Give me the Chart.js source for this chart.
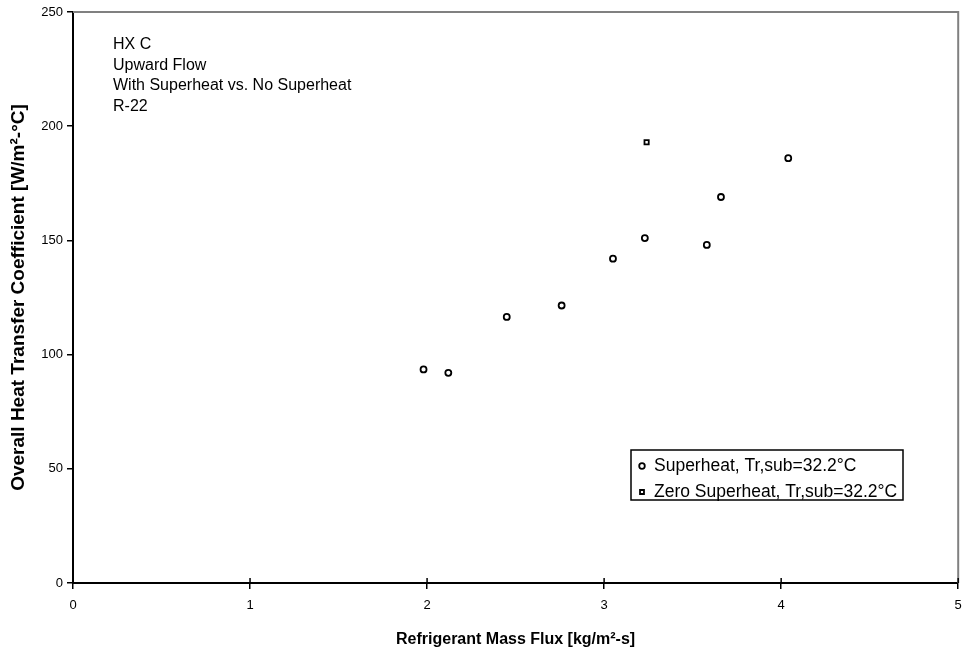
<!DOCTYPE html>
<html>
<head>
<meta charset="utf-8">
<script src="https://cdn.jsdelivr.net/npm/chart.js@4.4.1/dist/chart.umd.min.js"></script>
<style>
  html, body { margin: 0; padding: 0; background: #fff; }
  #wrap { width: 964px; height: 653px; }
</style>
</head>
<body>
<div id="wrap"><canvas id="myChart" width="964" height="653"></canvas></div>
<script>
// values
const superheatX = [1.98, 2.12, 2.45, 2.76, 3.05, 3.23, 3.58, 3.66, 4.04];
const superheatY = [93.5, 92, 116.5, 121.5, 142, 151, 148, 169, 186];
const zeroSuperheatX = [3.24];
const zeroSuperheatY = [193];
const xTicks = [0, 1, 2, 3, 4, 5];
const yTicks = [0, 50, 100, 150, 200, 250];
const noteLines = ['HX C', 'Upward Flow', 'With Superheat vs. No Superheat', 'R-22'];

const FONT = 'Arial, "Liberation Sans", sans-serif';

function pairs(xs, ys) {
  return xs.map((x, i) => ({ x: x, y: ys[i] }));
}

// gray frame on top and right, plus the x ticks that poke up into the plot
const framePlugin = {
  id: 'frame',
  beforeDatasetsDraw(chart) {
    const a = chart.chartArea, c = chart.ctx;
    c.save();
    c.strokeStyle = '#808080';
    c.lineWidth = 2;
    c.beginPath();
    c.moveTo(a.left, a.top);
    c.lineTo(a.right, a.top);
    c.lineTo(a.right, a.bottom);
    c.stroke();
    const xs = chart.scales.x;
    c.strokeStyle = '#000';
    c.lineWidth = 1.5;
    c.beginPath();
    xs.ticks.forEach(t => {
      const px = xs.getPixelForValue(t.value);
      c.moveTo(px, a.bottom);
      c.lineTo(px, a.bottom - 5);
    });
    c.stroke();
    c.restore();
  }
};

// text block in the top left corner
const notePlugin = {
  id: 'note',
  afterDraw(chart) {
    const a = chart.chartArea, c = chart.ctx;
    c.save();
    c.fillStyle = '#000';
    c.font = '16px ' + FONT;
    c.textBaseline = 'middle';
    noteLines.forEach((t, i) => c.fillText(t, a.left + 40, a.top + 33 + i * 20.5));
    c.restore();
  }
};

// boxed legend inside the plot
const boxLegend = {
  id: 'boxLegend',
  afterDraw(chart) {
    const a = chart.chartArea, c = chart.ctx;
    const x0 = a.left + 558, y0 = a.top + 438, w = 272, h = 50;
    c.save();
    c.fillStyle = '#fff';
    c.fillRect(x0, y0, w, h);
    c.font = '17.5px ' + FONT;
    c.textBaseline = 'middle';
    chart.data.datasets.forEach((ds, i) => {
      const y = y0 + 16 + i * 26;
      c.strokeStyle = '#000';
      c.fillStyle = '#fff';
      c.lineWidth = 1.8;
      Chart.helpers.drawPoint(c, { pointStyle: ds.pointStyle, radius: 2.8, borderWidth: 1.8, rotation: 0 }, x0 + 11, y);
      c.fillStyle = '#000';
      c.fillText(ds.label, x0 + 23, y);
    });
    c.strokeStyle = '#000';
    c.lineWidth = 1.5;
    c.strokeRect(x0, y0, w, h);
    c.restore();
  }
};

const ctx = document.getElementById('myChart');
const myChart = new Chart(ctx, {
  type: 'scatter',
  data: {
    datasets: [{
      label: 'Superheat, Tr,sub=32.2°C',
      data: pairs(superheatX, superheatY),
      pointStyle: 'circle',
      pointRadius: 3,
      pointBorderWidth: 1.8,
      borderColor: '#000',
      backgroundColor: '#fff'
    }, {
      label: 'Zero Superheat, Tr,sub=32.2°C',
      data: pairs(zeroSuperheatX, zeroSuperheatY),
      pointStyle: 'rect',
      pointRadius: 3,
      pointBorderWidth: 1.8,
      borderColor: '#000',
      backgroundColor: '#fff'
    }]
  },
  options: {
    responsive: false,
    animation: false,
    layout: { padding: { top: 12, right: 2, left: 0, bottom: 0 } },
    plugins: {
      legend: { display: false },
      tooltip: { enabled: false }
    },
    scales: {
      x: {
        type: 'linear',
        min: 0, max: 5,
        afterBuildTicks: s => { s.ticks = xTicks.map(v => ({ value: v })); },
        afterFit: s => { s.height = 70; s.paddingRight = 0; },
        border: { display: true, color: '#000', width: 2 },
        grid: { drawOnChartArea: false, drawTicks: true, tickLength: 6, color: '#000', lineWidth: 1.5 },
        ticks: { color: '#000', padding: 9, font: { family: FONT, size: 13 } },
        title: {
          display: true,
          text: 'Refrigerant Mass Flux [kg/m²-s]',
          color: '#000',
          padding: { top: 0, bottom: 4 },
          font: { family: FONT, size: 16, weight: 'bold' }
        }
      },
      y: {
        type: 'linear',
        min: 0, max: 250,
        afterBuildTicks: s => { s.ticks = yTicks.map(v => ({ value: v })); },
        afterFit: s => { s.width = 73; },
        border: { display: true, color: '#000', width: 2 },
        grid: { drawOnChartArea: false, drawTicks: true, tickLength: 6, color: '#000', lineWidth: 1.5 },
        ticks: { color: '#000', padding: 4, font: { family: FONT, size: 13 } },
        title: {
          display: true,
          text: 'Overall Heat Transfer Coefficient [W/m²-°C]',
          color: '#000',
          padding: { top: 7, bottom: 0 },
          font: { family: FONT, size: 19, weight: 'bold' }
        }
      }
    }
  },
  plugins: [framePlugin, notePlugin, boxLegend]
});
</script>
</body>
</html>
